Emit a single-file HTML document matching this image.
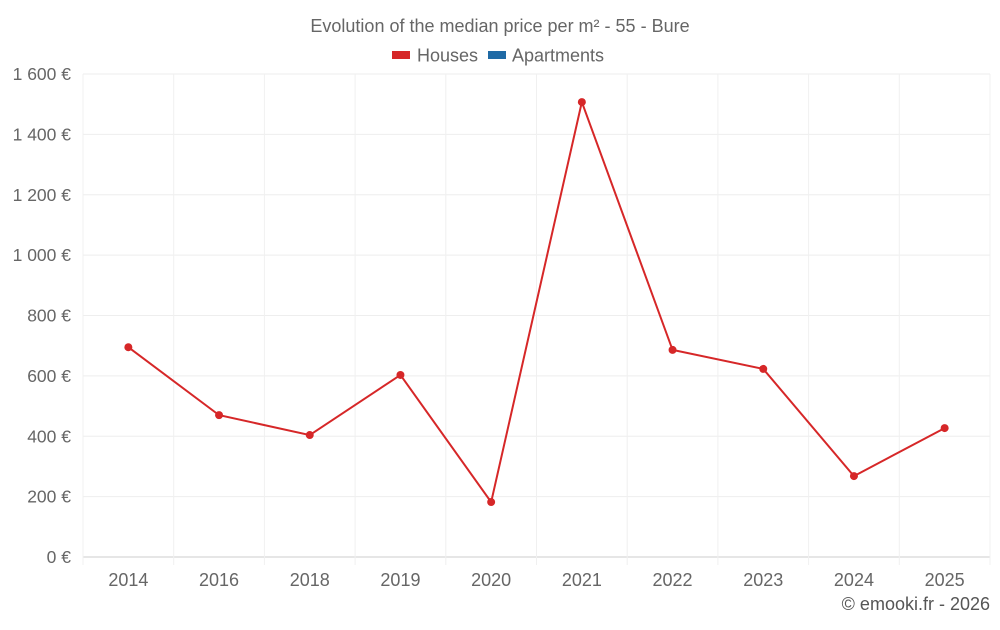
<!DOCTYPE html>
<html><head><meta charset="utf-8"><style>
body{margin:0;background:#fff;width:1000px;height:625px;overflow:hidden}
svg{font-family:"Liberation Sans",sans-serif}
</style></head><body>
<svg id="c" width="1000" height="625">
<text x="500" y="32" text-anchor="middle" font-size="18" fill="#666">Evolution of the median price per m² - 55 - Bure</text>
<g>
<g><rect x="392" y="51" width="18" height="8" fill="#d62728"/><text x="417" y="61.5" font-size="18" fill="#666">Houses</text></g>
<g><rect x="488" y="51" width="18" height="8" fill="#1f6aa5"/><text x="512" y="61.5" font-size="18" fill="#666">Apartments</text></g>
</g>
<g id="grid"></g><g id="axes"></g><g id="series"></g>
<text x="990" y="610" text-anchor="end" font-size="18" fill="#555">© emooki.fr - 2026</text>
</svg>
<script>
const categories=["2014","2016","2018","2019","2020","2021","2022","2023","2024","2025"];
const housesValues=[695,470,404,603,182,1507,686,623,268,427];
const yTicks=[0,200,400,600,800,1000,1200,1400,1600];
const yTickLabels=["0 €","200 €","400 €","600 €","800 €","1 000 €","1 200 €","1 400 €","1 600 €"];
const L=83,R=990,T=74,B=557,YMAX=1600;
const NS="http://www.w3.org/2000/svg";
const bw=(R-L)/categories.length;
function x(i){return L+bw*(i+0.5);}
function y(v){return B-(v/YMAX)*(B-T);}
function mk(t,a,p){const e=document.createElementNS(NS,t);for(const k in a)e.setAttribute(k,a[k]);p.appendChild(e);return e;}
const g=document.getElementById('grid'),ax=document.getElementById('axes'),s=document.getElementById('series');
yTicks.forEach((v,i)=>{
 const l=mk('line',{x1:L,x2:R,y1:y(v),y2:y(v),stroke:v===0?'#ccc':'#eee'},g);
 
 
 const t=mk('text',{x:71,y:y(v)+6,'text-anchor':'end','font-size':17.5,fill:'#666'},ax);
 t.textContent=yTickLabels[i];
 
 
});
for(let i=0;i<=categories.length;i++){
 const l=mk('line',{x1:L+bw*i,x2:L+bw*i,y1:T,y2:B+8,stroke:'#f0f0f0'},g);
 
 
}
categories.forEach((c,i)=>{
 const t=mk('text',{x:x(i),y:586,'text-anchor':'middle','font-size':18,fill:'#666'},ax);
 t.textContent=c;
 
 
});
const pl=mk('polyline',{points:housesValues.map((v,i)=>x(i)+','+y(v)).join(' '),fill:'none',stroke:'#d62728','stroke-width':2},s);


housesValues.forEach((v,i)=>{
 const c=mk('circle',{cx:x(i),cy:y(v),r:4,fill:'#d62728'},s);
 
 
});
</script>
</body></html>
